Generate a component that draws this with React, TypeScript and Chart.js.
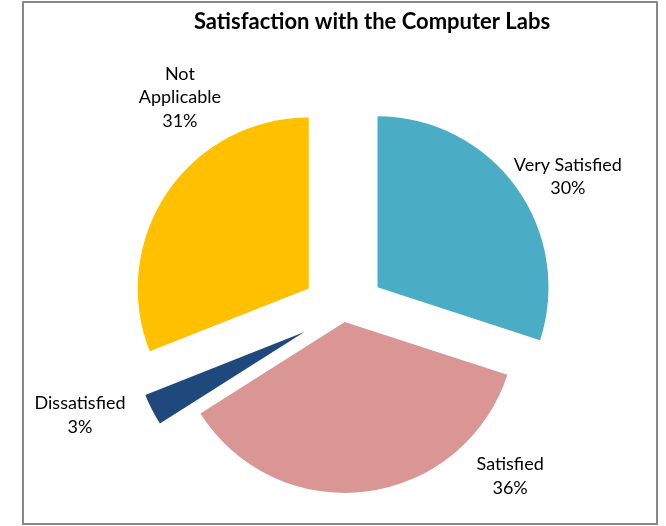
import React, { useEffect, useRef } from "react";
import { Chart, registerables } from "chart.js";

Chart.register(...registerables);

// ---- data ----
const categories = ["Very Satisfied", "Satisfied", "Dissatisfied", "Not Applicable"];
const values = [30, 36, 3, 31];
const labelNameLines = [["Very Satisfied"], ["Satisfied"], ["Dissatisfied"], ["Not", "Applicable"]];
const titleText = "Satisfaction with the Computer Labs";

// ---- styles ----
const colors = ["#4BACC6", "#D99694", "#1F497D", "#FFC000"];
const RADIUS = 171;
const explodePx = [42, 10, 44, 42];
// label block centre, polar from pie centre: [angle clockwise from top (deg), distance px]
const labelPolar = [
  [58.9, 262],
  [134.6, 234],
  [248.6, 283],
  [322.7, 270],
];

const LABEL_FONT = '18px Lato, "Liberation Sans", sans-serif';
const TITLE_FONT = 'bold 22px Lato, "Liberation Sans", sans-serif';

const decorPlugin = {
  id: "decor",
  afterDatasetsUpdate(chart: any) {
    // explode each slice outward along its mid-angle, keeping its radius and angle
    const meta = chart.getDatasetMeta(0);
    meta.data.forEach((arc: any, i: number) => {
      const mid = (arc.startAngle + arc.endAngle) / 2;
      arc.x += Math.cos(mid) * explodePx[i];
      arc.y += Math.sin(mid) * explodePx[i];
    });
  },
  beforeDraw(chart: any) {
    const ctx = chart.ctx;
    ctx.save();
    ctx.fillStyle = "#ffffff";
    ctx.fillRect(0, 0, chart.width, chart.height);
    ctx.strokeStyle = "#898989";
    ctx.lineWidth = 2;
    ctx.strokeRect(23, 2, 634, 522);
    ctx.restore();
  },
  afterDraw(chart: any) {
    const ctx = chart.ctx;
    const area = chart.chartArea;
    const cx = (area.left + area.right) / 2;
    const cy = (area.top + area.bottom) / 2;
    ctx.save();
    ctx.fillStyle = "#000000";
    ctx.textAlign = "center";
    ctx.textBaseline = "middle";
    ctx.font = TITLE_FONT;
    ctx.fillText(titleText, 372, 22);
    ctx.font = LABEL_FONT;
    const lineH = 23.5;
    values.forEach((v, i) => {
      const lines = [...labelNameLines[i], `${v}%`];
      const a = (labelPolar[i][0] * Math.PI) / 180;
      const d = labelPolar[i][1];
      const lx = cx + Math.sin(a) * d;
      const ly = cy - Math.cos(a) * d;
      const startY = ly - ((lines.length - 1) * lineH) / 2;
      lines.forEach((t, k) => ctx.fillText(t, lx, startY + k * lineH));
    });
    ctx.restore();
  },
};

export default function App() {
  const canvasRef = useRef<HTMLCanvasElement | null>(null);
  useEffect(() => {
    const canvas = canvasRef.current;
    if (!canvas) return;
    const chart = new Chart(canvas, {
      type: "pie",
      data: {
        labels: categories,
        datasets: [
          {
            data: values,
            backgroundColor: colors,
            borderWidth: 0,
            offset: 0,
            hoverOffset: 0,
          },
        ],
      },
      options: {
        responsive: false,
        animation: false,
        radius: RADIUS,
        layout: { padding: { left: 143, right: 122, top: 112, bottom: 14 } },
        plugins: {
          legend: { display: false },
          title: { display: false },
          tooltip: { enabled: false },
        },
      } as any,
      plugins: [decorPlugin],
    });
    return () => chart.destroy();
  }, []);
  return (
    <div style={{ position: "fixed", left: 0, top: 0, width: 666, height: 526, background: "#fff" }}>
      <canvas ref={canvasRef} width={666} height={526} style={{ display: "block" }} />
    </div>
  );
}
